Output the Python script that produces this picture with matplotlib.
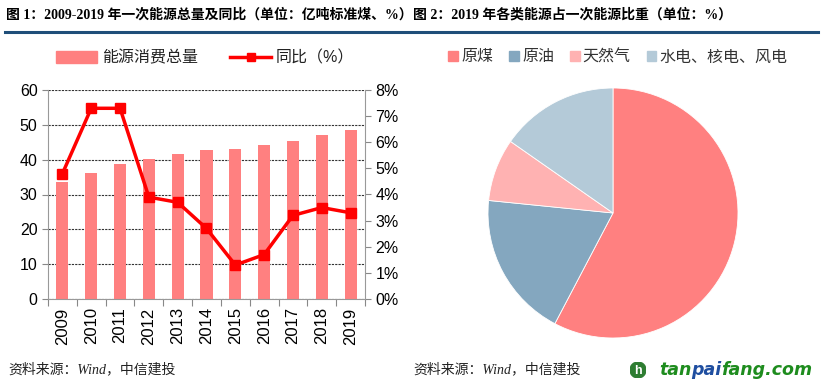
import numpy as np
import matplotlib.pyplot as plt
from matplotlib.patches import Circle
from matplotlib.lines import Line2D
from matplotlib.patches import Patch

plt.rcParams['font.family'] = ['Liberation Sans', 'Noto Sans CJK SC', 'DejaVu Sans']

# datos
years = ['2009', '2010', '2011', '2012', '2013', '2014', '2015', '2016', '2017', '2018', '2019']
consumo = [33.6, 36.1, 38.7, 40.2, 41.7, 42.8, 43.2, 44.1, 45.5, 47.1, 48.6]
yoy = [4.8, 7.3, 7.3, 3.9, 3.7, 2.7, 1.3, 1.7, 3.2, 3.5, 3.3]

fuentes = ['原煤', '原油', '天然气', '水电、核电、风电']
shares = [57.7, 18.9, 8.1, 15.3]
colores_pie = ['#FF8080', '#84A7BF', '#FFB2B2', '#B4CAD8']

W, H = 828, 391
fig = plt.figure(figsize=(W / 100, H / 100), dpi=100)


def px_axes(x0, y0, x1, y1):
    # coordenadas en pixeles (origen arriba a la izquierda)
    return fig.add_axes([x0 / W, 1 - y1 / H, (x1 - x0) / W, (y1 - y0) / H])


# titulos y linea azul
title_font = ['Liberation Serif', 'Noto Sans CJK SC']
fig.text(6 / W, 1 - 15 / H, '图 1：2009-2019 年一次能源总量及同比（单位：亿吨标准煤、%）',
         family=title_font, fontweight='bold', fontsize=10, va='center', ha='left')
fig.text(413 / W, 1 - 15 / H, '图 2：2019 年各类能源占一次能源比重（单位：%）',
         family=title_font, fontweight='bold', fontsize=10, va='center', ha='left')
fig.add_artist(Line2D([5 / W, 409 / W], [1 - 32 / H] * 2, color='#1F4E79', lw=2.2))
fig.add_artist(Line2D([412 / W, 818 / W], [1 - 32 / H] * 2, color='#1F4E79', lw=2.2))

# grafico de barras + linea
ax = px_axes(48, 90, 365, 299)
x = np.arange(len(years))
ax.bar(x, consumo, width=0.42, color='#FF8080', zorder=2)
ax.set_xlim(-0.5, len(years) - 0.5)
ax.set_ylim(0, 60)
ax.set_yticks(range(0, 61, 10))
ax.yaxis.grid(True, linestyle=(0, (2, 1)), color='#333333', lw=0.8, zorder=0)
ax.set_xticks(np.arange(-0.5, len(years), 1.0))
ax.set_xticklabels([])
ax.set_xticks(x, minor=True)
ax.set_xticklabels(years, minor=True, rotation=90, fontsize=12)
ax.tick_params(axis='x', which='minor', length=0, pad=6)
ax.tick_params(axis='x', which='major', length=5, color='#888888')
ax.tick_params(axis='y', length=4, color='#888888', labelsize=11.5)
for s in ['top', 'right']:
    ax.spines[s].set_visible(False)
for s in ['left', 'bottom']:
    ax.spines[s].set_color('#999999')

ax2 = ax.twinx()
ax2.plot(x, yoy, color='#FF0000', lw=2.5, marker='s', markersize=7, zorder=3)
ax2.set_ylim(0, 8)
ax2.set_yticks(range(0, 9))
ax2.set_yticklabels(['%d%%' % v for v in range(0, 9)])
ax2.tick_params(axis='y', length=4, color='#888888', labelsize=11.5)
for s in ['top', 'left', 'bottom']:
    ax2.spines[s].set_visible(False)
ax2.spines['right'].set_color('#999999')

handles = [Patch(color='#FF8080'), Line2D([], [], color='#FF0000', lw=2.5, marker='s', markersize=6)]
fig.legend(handles, ['能源消费总量', '同比（%）'], loc='center', bbox_to_anchor=(205 / W, 1 - 58 / H),
           ncol=2, frameon=False, fontsize=11.5, handlelength=2.6, columnspacing=2.0,
           handletextpad=0.3, labelcolor='#222222')

# grafico de torta
axp = px_axes(613 - 125, 213 - 125, 613 + 125, 213 + 125)
axp.pie(shares, colors=colores_pie, startangle=90, counterclock=False,
        wedgeprops=dict(linewidth=0.6, edgecolor='white'))
axp.set_aspect('equal')
axp.set_xlim(-1, 1)
axp.set_ylim(-1, 1)

handles_p = [Patch(color=c) for c in colores_pie]
fig.legend(handles_p, fuentes, loc='center', bbox_to_anchor=(618 / W, 1 - 57 / H),
           ncol=4, frameon=False, handlelength=0.6, handleheight=0.6,
           columnspacing=1.0, handletextpad=0.2, labelcolor='#333333',
           prop={'family': ['Noto Sans CJK SC'], 'size': 11.5})

# fuentes
for xp in [8, 413]:
    fig.text(xp / W, 1 - 369 / H, '资料来源：Wind，中信建投', family=['Liberation Serif', 'Noto Sans CJK SC'],
             style='italic', fontsize=10, va='center', ha='left', color='#222222')

# logo
logo_ax = px_axes(630, 362, 646, 378)
logo_ax.set_axis_off()
logo_ax.add_patch(Circle((0.5, 0.5), 0.5, color='#2E7D32'))
logo_ax.text(0.52, 0.45, 'h', color='white', fontsize=9, fontweight='bold', ha='center', va='center')
logo_ax.set_xlim(0, 1)
logo_ax.set_ylim(0, 1)
logo_ax.set_aspect('equal')

fig.canvas.draw()
renderer = fig.canvas.get_renderer()
xp = 659
for parte, col in [('tan', '#1E8C1E'), ('pai', '#1F4EA0'), ('fang.com', '#1E8C1E')]:
    t = fig.text(xp / W, 1 - 370 / H, parte, color=col, fontsize=12.5, fontweight='bold',
                 style='italic', family='DejaVu Sans', va='center', ha='left')
    bb = t.get_window_extent(renderer)
    xp += bb.width

fig.savefig('out.png', dpi=100)
